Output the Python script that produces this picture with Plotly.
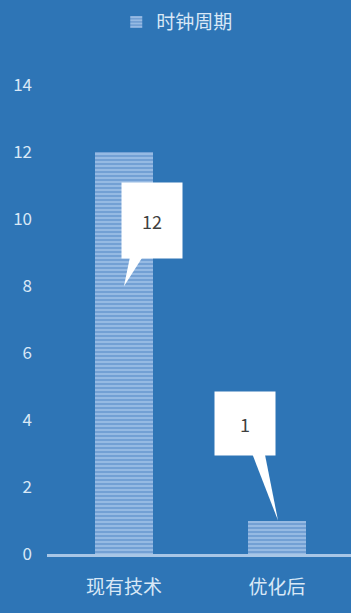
import plotly.graph_objects as go

categories = ["现有技术", "优化后"]
values = [12, 1]
series_name = "时钟周期"
y_ticks = [0, 2, 4, 6, 8, 10, 12, 14]

BG = "#2E75B6"
STRIPE = "#BDD8F3"
STRIPE_BG = "#6F9DD3"
TXT = "#D9E8F6"
FONT = "Noto Sans CJK SC"

x_pos = list(range(len(categories)))

fig = go.Figure()
fig.add_trace(go.Bar(
    x=x_pos, y=values, name=series_name, width=0.38,
    marker=dict(color=STRIPE_BG, line=dict(width=0),
                pattern=dict(shape="-", fgcolor=STRIPE, bgcolor=STRIPE_BG, size=4, solidity=0.55, fillmode="overlay")),
    showlegend=True,
))

# callout styles (offsets relative to bar position / value)
callouts = [
    dict(cx=0.183, cy=9.96, w=60, h=75, bx0=0.04, bx1=0.124, by=8.84, tx=0.0, ty=8.0),
    dict(cx=-0.21, cy=3.9, w=60, h=63, bx0=-0.163, bx1=-0.08, by=2.96, tx=0.007, ty=None),
]
shapes = []
annotations = []
for i, (v, c) in enumerate(zip(values, callouts)):
    ty = v if c["ty"] is None else c["ty"]
    shapes.append(dict(type="path", xref="x", yref="y",
                       path=f"M {i + c['bx0']} {c['by'] + 0.05} L {i + c['bx1']} {c['by'] + 0.05} L {i + c['tx']} {ty} Z",
                       fillcolor="white", line=dict(width=0), layer="above"))
    annotations.append(dict(x=i + c["cx"], y=c["cy"], xref="x", yref="y", text=str(v),
                            showarrow=False, width=c["w"], height=c["h"], bgcolor="white",
                            font=dict(family=FONT, size=18, color="#404040"),
                            xanchor="center", yanchor="middle", valign="middle", borderpad=0))

fig.update_layout(
    width=351, height=613,
    margin=dict(l=47, r=0, t=52, b=59),
    paper_bgcolor=BG, plot_bgcolor=BG,
    font=dict(family=FONT, color=TXT),
    bargap=0,
    legend=dict(orientation="h", x=0.505, xanchor="center", xref="container", y=0.995, yanchor="top",
                yref="container", font=dict(size=19, color=TXT), bgcolor="rgba(0,0,0,0)",
                itemwidth=30),
    shapes=shapes, annotations=annotations,
    xaxis=dict(range=[-0.503, 1.484], tickvals=x_pos, ticktext=categories,
               showgrid=False, zeroline=False, showline=True, linecolor="#A8C6E6", linewidth=3,
               ticks="", tickfont=dict(size=19, color=TXT), ticklabelstandoff=14, fixedrange=True),
    yaxis=dict(range=[0, 15], tickvals=y_ticks, showgrid=False, zeroline=False, showline=False,
               ticks="", tickfont=dict(size=17, color=TXT), ticklabelstandoff=14, fixedrange=True),
)

fig.write_html("out.html")
